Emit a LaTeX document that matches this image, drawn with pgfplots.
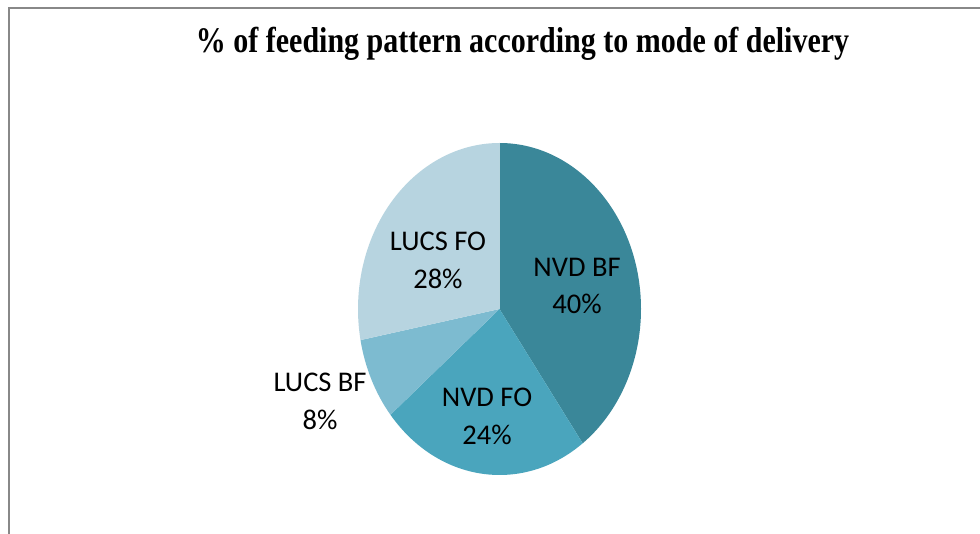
\documentclass[border=0pt]{standalone}
\usepackage{pgfplots}
\usepackage{pgfplotstable}
\pgfplotsset{compat=1.18}
\usepackage{fontspec}
\setmainfont{Liberation Serif}
\newfontfamily\calibri{Carlito}
\definecolor{slice0}{RGB}{58,135,153}
\definecolor{slice1}{RGB}{74,165,189}
\definecolor{slice2}{RGB}{125,187,208}
\definecolor{slice3}{RGB}{183,212,224}
\definecolor{framegray}{RGB}{136,136,136}
\pgfplotstableread[col sep=comma]{
label,value,lx,ly
NVD BF,40,0.548,0.138
NVD FO,24,-0.088,-0.647
LUCS BF,8,-1.268,-0.557
LUCS FO,28,-0.435,0.293
}\piedata
\begin{document}
\begin{tikzpicture}[x=1pt,y=1pt]
\useasboundingbox (0,0) rectangle (980,533);
\fill[white] (0,0) rectangle (980,533);
% partially visible heading above the frame (cut off at the top, as in the source)
\node[anchor=base west,inner sep=0pt] at (30,543.5)
  {\scalebox{1}[1.2]{\fontsize{31.5}{36}\selectfont\bfseries Feeding pattern according to mode of delivery}};
% frame
\draw[framegray,line width=2pt] (9,-5) -- (9,525) -- (990,525);
% title
\node[anchor=base,inner sep=0pt] at (522.5,480.3)
  {\scalebox{1}[1.2]{\fontsize{30}{36}\selectfont\bfseries \% of feeding pattern according to mode of delivery}};
\begin{axis}[
  hide axis, scale only axis,
  width=283pt, height=332pt,
  xmin=-1, xmax=1, ymin=-1, ymax=1,
  anchor=center, at={(499.5pt,224pt)},
  clip=false,
]
\def\astart{90}
\pgfplotsforeachungrouped \i in {0,...,3}{%
  \pgfplotstablegetelem{\i}{value}\of\piedata
  \let\v\pgfplotsretval
  \pgfmathsetmacro\aend{\astart-3.6*\v}%
  \edef\temp{\noexpand\fill[slice\i] (axis cs:0,0) -- (axis cs:{cos(\astart)},{sin(\astart)}) arc[start angle=\astart, end angle=\aend, radius=1] -- cycle;}%
  \temp
  \global\let\astart\aend
}
\pgfplotsforeachungrouped \i in {0,...,3}{%
  \pgfplotstablegetelem{\i}{label}\of\piedata
  \let\lab\pgfplotsretval
  \pgfplotstablegetelem{\i}{value}\of\piedata
  \let\v\pgfplotsretval
  \pgfplotstablegetelem{\i}{lx}\of\piedata
  \let\lx\pgfplotsretval
  \pgfplotstablegetelem{\i}{ly}\of\piedata
  \let\ly\pgfplotsretval
  \edef\temp{\noexpand\node[align=center,inner sep=0pt,font=\noexpand\calibri\noexpand\fontsize{28.5}{37.5}\noexpand\selectfont] at (axis cs:\lx,\ly) {\lab\noexpand\\\v\noexpand\%};}%
  \temp
}
\end{axis}
\end{tikzpicture}
\end{document}
